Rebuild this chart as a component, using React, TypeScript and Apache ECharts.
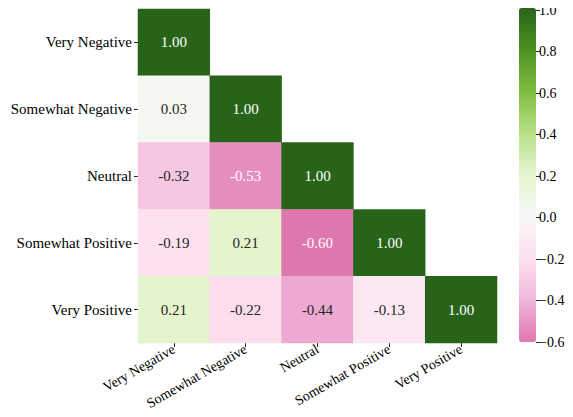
import React, { useEffect, useRef } from "react";
import * as echarts from "echarts";

const categories = ["Very Negative", "Somewhat Negative", "Neutral", "Somewhat Positive", "Very Positive"];
const rowVeryNegative = [1.0];
const rowSomewhatNegative = [0.03, 1.0];
const rowNeutral = [-0.32, -0.53, 1.0];
const rowSomewhatPositive = [-0.19, 0.21, -0.6, 1.0];
const rowVeryPositive = [0.21, -0.22, -0.44, -0.13, 1.0];
const rows = [rowVeryNegative, rowSomewhatNegative, rowNeutral, rowSomewhatPositive, rowVeryPositive];
const colorbarMin = -0.6;
const colorbarMax = 1.0;
const colorbarStep = 0.2;

const stops = ["#de77ae", "#f1b6da", "#fde0ef", "#f7f7f7", "#e6f5d0", "#b8e186", "#7fbc41", "#4d9221", "#276419"];

function hexToRgb(h: string) {
  return [parseInt(h.slice(1, 3), 16), parseInt(h.slice(3, 5), 16), parseInt(h.slice(5, 7), 16)];
}
function colorAt(v: number) {
  const t = Math.max(0, Math.min(1, (v - colorbarMin) / (colorbarMax - colorbarMin))) * (stops.length - 1);
  const i = Math.min(stops.length - 2, Math.floor(t));
  const f = t - i;
  const a = hexToRgb(stops[i]);
  const b = hexToRgb(stops[i + 1]);
  return a.map((c, k) => c + (b[k] - c) * f);
}
function lum(rgb: number[]) {
  const lin = rgb.map((c) => {
    const s = c / 255;
    return s <= 0.03928 ? s / 12.92 : Math.pow((s + 0.055) / 1.055, 2.4);
  });
  return 0.2126 * lin[0] + 0.7152 * lin[1] + 0.0722 * lin[2];
}

const FONT = "serif";
const FS = 15;

export default function App() {
  const ref = useRef<HTMLDivElement>(null);
  useEffect(() => {
    if (!ref.current) return;
    const chart = echarts.init(ref.current, null, { renderer: "svg" });
    const data: any[] = [];
    rows.forEach((row, r) => {
      row.forEach((v, c) => {
        const textColor = lum(colorAt(v)) > 0.408 ? "#262626" : "#ffffff";
        data.push({ value: [c, r, v], label: { color: textColor } });
      });
    });
    chart.setOption({
      animation: false,
      grid: [
        { left: 138, right: 76, top: 9, bottom: 74 },
        { left: 519, width: 17, top: 10, bottom: 75 },
      ],
      xAxis: [
        {
          type: "category",
          data: categories,
          gridIndex: 0,
          axisLine: { show: false },
          axisTick: { show: true, length: 4, alignWithLabel: true, lineStyle: { color: "#262626" } },
          splitLine: { show: false },
          axisLabel: { rotate: 30, fontSize: 14, color: "#000", fontFamily: FONT, margin: 5, interval: 0 },
        },
        { type: "category", data: [""], gridIndex: 1, show: false },
      ],
      yAxis: [
        {
          type: "category",
          data: categories,
          inverse: true,
          gridIndex: 0,
          axisLine: { show: false },
          axisTick: { show: true, length: 4, alignWithLabel: true, lineStyle: { color: "#262626" } },
          splitLine: { show: false },
          axisLabel: { fontSize: FS, color: "#000", fontFamily: FONT, margin: 6, interval: 0 },
        },
        {
          type: "value",
          gridIndex: 1,
          position: "right",
          min: colorbarMin,
          max: colorbarMax,
          interval: colorbarStep,
          axisLine: { show: false },
          axisTick: { show: true, length: 4, lineStyle: { color: "#262626" } },
          splitLine: { show: false },
          axisLabel: {
            fontSize: 14,
            color: "#000",
            fontFamily: FONT,
            margin: 3,
            formatter: (v: number) => v.toFixed(1).replace("-", "\u2212"),
          },
        },
      ],
      visualMap: {
        type: "continuous",
        seriesIndex: 0,
        min: colorbarMin,
        max: colorbarMax,
        calculable: false,
        orient: "vertical",
        left: 519,
        top: 8,
        padding: 0,
        itemWidth: 17,
        itemHeight: 334,
        inRange: { color: stops },
        hoverLink: false,
      },
      series: [
        {
          type: "heatmap",
          xAxisIndex: 0,
          yAxisIndex: 0,
          data,
          label: {
            show: true,
            fontSize: FS,
            fontFamily: FONT,
            formatter: (p: any) => p.value[2].toFixed(2),
          },
          itemStyle: { borderWidth: 0 },
        },
        { type: "line", xAxisIndex: 1, yAxisIndex: 1, data: [] },
      ],
    });
    return () => chart.dispose();
  }, []);
  return (
    <>
      <style>{"#root svg text { font-family: serif !important; }"}</style>
      <div ref={ref} style={{ width: 573, height: 417, margin: -8 }} />
    </>
  );
}
